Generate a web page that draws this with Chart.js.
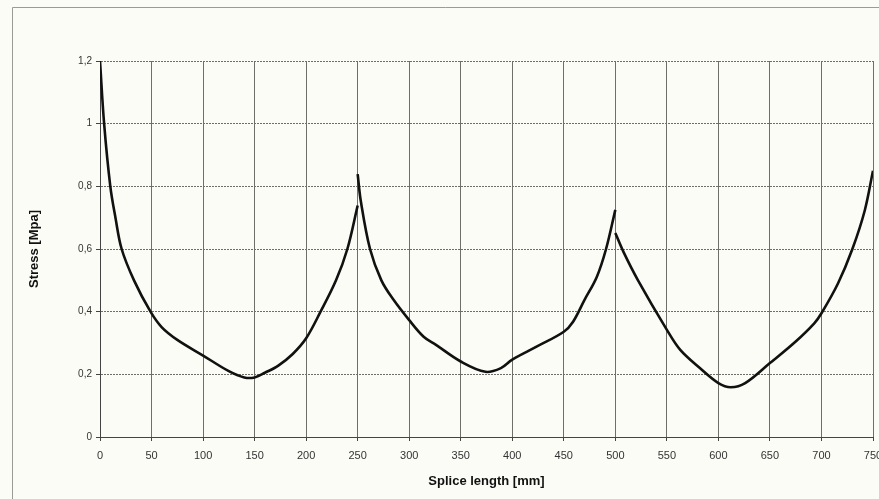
<!DOCTYPE html>
<html>
<head>
<meta charset="utf-8">
<script src="https://cdn.jsdelivr.net/npm/chart.js@4/dist/chart.umd.min.js"></script>
<style>
  html, body { margin: 0; padding: 0; background: #fcfcf7; }
  #wrap { width: 879px; height: 499px; position: relative; }
</style>
</head>
<body>
<div id="wrap"><canvas id="stressChart"></canvas></div>
<script>
// Splice length [mm] and stress [MPa] per segment (curve jumps at 250 and 500)
const seg1X = [0, 4, 10, 15, 21, 33, 49, 60, 75, 100, 125, 140, 150, 160, 173, 187, 200, 214, 229, 240, 250];
const seg1Y = [1.2, 1.0, 0.8, 0.7, 0.6, 0.5, 0.4, 0.35, 0.31, 0.26, 0.21, 0.19, 0.19, 0.205, 0.228, 0.265, 0.315, 0.4, 0.5, 0.6, 0.739];
const seg2X = [250, 253, 262, 273, 285, 300, 314, 326, 350, 374, 389, 400, 424, 450, 459, 470, 482, 491, 500];
const seg2Y = [0.839, 0.754, 0.6, 0.5, 0.437, 0.373, 0.32, 0.294, 0.241, 0.208, 0.22, 0.247, 0.289, 0.336, 0.368, 0.437, 0.511, 0.6, 0.725];
const seg3X = [500, 508, 522, 550, 563, 582, 600, 612, 626, 650, 675, 693, 700, 716, 730, 742, 750];
const seg3Y = [0.651, 0.59, 0.5, 0.342, 0.278, 0.22, 0.172, 0.159, 0.172, 0.236, 0.305, 0.363, 0.395, 0.49, 0.6, 0.723, 0.85];

function toPoints(xs, ys) {
    return xs.map(function (x, i) { return { x: x, y: ys[i] }; });
}

const lineStyle = {
    borderColor: '#111',
    borderWidth: 2.6,
    pointRadius: 0,
    fill: false,
    tension: 0.35
};

// Page background and the faint frame round the plot
const framePlugin = {
    id: 'frame',
    beforeDraw: function (chart) {
        const c = chart.ctx;
        c.save();
        c.fillStyle = '#fcfcf7';
        c.fillRect(0, 0, chart.width, chart.height);
        c.strokeStyle = '#9a9a96';
        c.lineWidth = 1;
        c.beginPath();
        c.moveTo(12.5, chart.height);
        c.lineTo(12.5, 7.5);
        c.lineTo(chart.width, 7.5);
        c.stroke();
        c.restore();
    }
};

const gridStyle = {
    color: '#6f6f6a',
    lineWidth: 1,
    tickLength: 4,
    tickColor: '#444'
};

new Chart(document.getElementById('stressChart').getContext('2d'), {
    type: 'line',
    data: {
        datasets: [
            Object.assign({ data: toPoints(seg1X, seg1Y) }, lineStyle),
            Object.assign({ data: toPoints(seg2X, seg2Y) }, lineStyle),
            Object.assign({ data: toPoints(seg3X, seg3Y) }, lineStyle)
        ]
    },
    options: {
        responsive: true,
        maintainAspectRatio: false,
        animation: false,
        layout: { padding: { left: 23, top: 61, right: 6, bottom: 6 } },
        scales: {
            x: {
                type: 'linear',
                min: 0,
                max: 750,
                ticks: {
                    stepSize: 50,
                    padding: 8,
                    color: '#333',
                    font: { family: 'Liberation Sans', size: 11 }
                },
                grid: Object.assign({ borderDash: [2, 1] }, gridStyle),
                border: { color: '#444', width: 1 },
                title: {
                    display: true,
                    text: 'Splice length [mm]',
                    color: '#111',
                    font: { family: 'Liberation Sans', size: 13, weight: 'bold' },
                    padding: { top: 4, bottom: 4 }
                },
                afterFit: function (scale) {
                    scale.height = 56;
                    scale.paddingLeft = 0;
                    scale.paddingRight = 0;
                }
            },
            y: {
                min: 0,
                max: 1.2,
                ticks: {
                    stepSize: 0.2,
                    padding: 4,
                    color: '#333',
                    font: { family: 'Liberation Sans', size: 10 },
                    callback: function (value) {
                        return String(Math.round(value * 10) / 10).replace('.', ',');
                    }
                },
                grid: Object.assign({}, gridStyle),
                border: { color: '#444', width: 1, dash: [2, 1] },
                title: {
                    display: true,
                    text: 'Stress [Mpa]',
                    color: '#111',
                    font: { family: 'Liberation Sans', size: 13, weight: 'bold' },
                    padding: { top: 4, bottom: 4 }
                },
                afterFit: function (scale) {
                    scale.width = 77;
                    scale.paddingTop = 0;
                    scale.paddingBottom = 0;
                }
            }
        },
        plugins: {
            legend: { display: false },
            tooltip: { enabled: false }
        }
    },
    plugins: [framePlugin]
});
</script>
</body>
</html>
